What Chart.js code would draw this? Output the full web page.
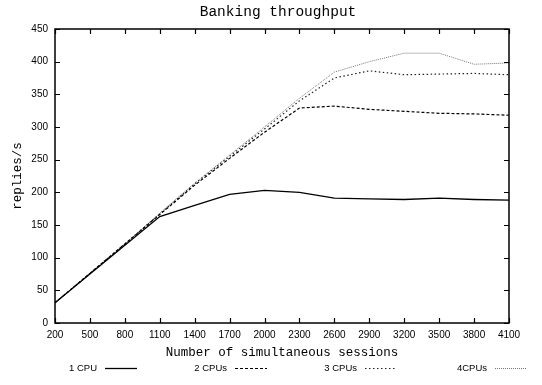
<!DOCTYPE html>
<html>
<head>
<meta charset="utf-8">
<script src="https://cdn.jsdelivr.net/npm/chart.js@4/dist/chart.umd.min.js"></script>
<style>
  html, body { margin: 0; padding: 0; background: #fff; }
  #wrap { width: 542px; height: 385px; position: relative; }
</style>
</head>
<body>
<div id="wrap"><canvas id="c"></canvas></div>
<script>
// Banking throughput: replies per second vs. number of simultaneous sessions
const chartTitle = 'Banking throughput';
const sessions = [200, 500, 800, 1100, 1400, 1700, 2000, 2300, 2600, 2900, 3200, 3500, 3800, 4100];
const cpu1 = [31, 75, 119, 163, 180, 197, 203, 200, 191, 190, 189, 191, 189, 188];
const cpu2 = [31, 76, 121, 166, 211, 252, 292, 329, 332, 327, 324, 321, 320, 318];
const cpu3 = [31, 76, 121, 167, 213, 255, 297, 340, 375, 386, 380, 381, 382, 380];
const cpu4 = [31, 76, 121, 168, 214, 257, 300, 344, 384, 400, 413, 413, 396, 398];
const seriesNames = ['1 CPU', '2 CPUs', '3 CPUs', '4CPUs'];

const monoFont = '"Liberation Mono", "DejaVu Sans Mono", monospace';
const sansFont = '"Liberation Sans", Arial, sans-serif';

function pts(ys) { return sessions.map((x, i) => ({ x, y: ys[i] })); }

const styles = [
  { color: '#000', width: 1.3, dash: [] },
  { color: '#000', width: 1.2, dash: [3, 2] },
  { color: '#222', width: 1.2, dash: [1.5, 2.5] },
  { color: '#777', width: 1.0, dash: [1, 1] }
];

const datasets = [cpu1, cpu2, cpu3, cpu4].map((ys, i) => ({
  label: seriesNames[i],
  data: pts(ys),
  borderColor: styles[i].color,
  borderWidth: styles[i].width,
  borderDash: styles[i].dash,
  pointRadius: 0,
  tension: 0,
  fill: false
}));

// gnuplot-style frame with inward tick marks on all four sides, plus title and key
const framePlugin = {
  id: 'frame',
  afterDraw(chart) {
    const { ctx, chartArea: a, scales } = chart;
    ctx.save();
    ctx.strokeStyle = '#000';
    ctx.lineWidth = 1.2;
    const t = 5;
    ctx.beginPath();
    scales.x.ticks.forEach(tk => {
      const px = Math.round(scales.x.getPixelForValue(tk.value)) + 0.5;
      ctx.moveTo(px, a.bottom); ctx.lineTo(px, a.bottom - t);
      ctx.moveTo(px, a.top); ctx.lineTo(px, a.top + t);
    });
    scales.y.ticks.forEach(tk => {
      const py = Math.round(scales.y.getPixelForValue(tk.value)) + 0.5;
      ctx.moveTo(a.left, py); ctx.lineTo(a.left + t, py);
      ctx.moveTo(a.right, py); ctx.lineTo(a.right - t, py);
    });
    ctx.stroke();
    ctx.lineWidth = 1.5;
    ctx.strokeRect(a.left, a.top, a.right - a.left, a.bottom - a.top);

    // title
    ctx.fillStyle = '#000';
    ctx.font = '14.5px ' + monoFont;
    ctx.textAlign = 'center';
    ctx.textBaseline = 'middle';
    ctx.fillText(chartTitle, 278, 12);

    // key: right-justified label followed by a line sample
    ctx.font = '9.5px ' + sansFont;
    ctx.textAlign = 'right';
    const ky = 368;
    chart.data.datasets.forEach((ds, i) => {
      const xr = 97 + 130 * i;
      ctx.fillStyle = '#000';
      ctx.fillText(ds.label, xr, ky);
      ctx.beginPath();
      ctx.strokeStyle = ds.borderColor;
      ctx.lineWidth = ds.borderWidth;
      ctx.setLineDash(ds.borderDash);
      ctx.moveTo(xr + 8, ky + 0.5);
      ctx.lineTo(xr + 40, ky + 0.5);
      ctx.stroke();
      ctx.setLineDash([]);
    });
    ctx.restore();
  }
};

new Chart(document.getElementById('c'), {
  type: 'line',
  data: { datasets },
  plugins: [framePlugin],
  options: {
    responsive: true,
    maintainAspectRatio: false,
    devicePixelRatio: 1,
    animation: false,
    layout: { padding: { top: 29, left: 0, right: 33, bottom: 22 } },
    plugins: {
      legend: { display: false },
      title: { display: false },
      tooltip: { enabled: false }
    },
    scales: {
      x: {
        type: 'linear',
        min: 200,
        max: 4100,
        afterFit: s => { s.height = 40; },
        grid: { display: false, drawTicks: false },
        border: { display: false },
        ticks: {
          stepSize: 300,
          autoSkip: false,
          maxRotation: 0,
          padding: 6,
          color: '#000',
          font: { family: sansFont, size: 10 },
          callback: v => String(v)
        },
        title: {
          display: true,
          text: 'Number of simultaneous sessions',
          color: '#000',
          font: { family: monoFont, size: 12.5 },
          padding: { top: 0, bottom: 3 }
        }
      },
      y: {
        min: 0,
        max: 450,
        afterFit: s => { s.width = 55; },
        grid: { display: false, drawTicks: false },
        border: { display: false },
        ticks: {
          stepSize: 50,
          padding: 7,
          color: '#000',
          font: { family: sansFont, size: 10 },
          callback: v => String(v)
        },
        title: {
          display: true,
          text: 'replies/s',
          color: '#000',
          font: { family: monoFont, size: 12.5 },
          padding: { top: 10, bottom: 0 }
        }
      }
    }
  }
});
</script>
</body>
</html>
